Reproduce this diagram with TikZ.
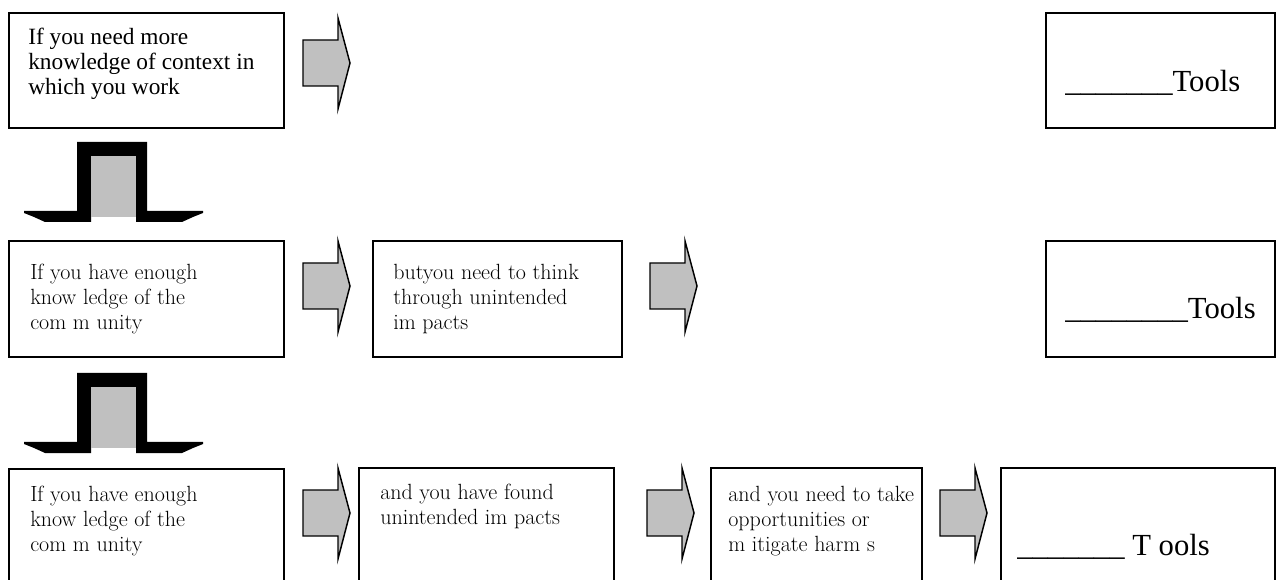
\documentclass[tikz,border=0pt]{standalone}
\usepackage{fontspec}
\newfontfamily\timesf{Liberation Serif}
\usetikzlibrary{fit}
\definecolor{arrowgray}{RGB}{192,192,192}
\tikzset{
  box/.style={draw=black, line width=1.2pt, rectangle, inner sep=0pt},
  txtA/.style={font=\timesf\fontsize{17.5}{18.75}\selectfont, align=left, inner sep=0pt, anchor=north west},
  txtB/.style={font=\fontsize{16.5}{18.75}\selectfont, align=left, inner sep=0pt, anchor=north west},
  tooltxt/.style={font=\timesf\fontsize{23}{27}\selectfont, inner sep=0pt, anchor=base west},
  arrowshape/.style={draw=black, line width=1.1pt, fill=arrowgray, line join=miter},
  blockarrow/.pic={
    \draw[arrowshape] (0,0) -- (35,0) -- (35,-22) -- (47,23) -- (35,69) -- (35,46) -- (0,46) -- cycle;
  },
  pedestal/.pic={
    \fill[black] (-53,69) -- (0,69) -- (0,0) -- (70,0) -- (70,69) -- (126,69) -- (126,71)
      -- (116,75) -- (105,80) -- (59,80) -- (59,14) -- (14,14) -- (14,80) -- (-32,80)
      -- (-43,75) -- (-53,71) -- cycle;
    \fill[arrowgray] (14,14) rectangle (59,75);
  }
}
\begin{document}
\begin{tikzpicture}[x=0.75pt,y=-0.75pt]
\useasboundingbox (0,0) rectangle (1277,580);

% row 1
\node[box, fit={(9,13) (284,128)}] (b11) {};
\node[box, fit={(1046,13) (1275,128)}] (b14) {};
\node[txtA] (t11) at (28,26.5) {\strut If you need more\\knowledge of context in\\which you work};
\node[tooltxt] (t14) at (1065,92) {\_\_\_\_\_\_\_Tools};
\pic at (303,40) {blockarrow};
\pic at (77,142) {pedestal};

% row 2
\node[box, fit={(9,241) (284,357)}] (b21) {};
\node[box, fit={(373,241) (622,357)}] (b22) {};
\node[box, fit={(1046,241) (1275,357)}] (b24) {};
\node[txtB] (t21) at (30,261.5) {\strut If you have enough\\know ledge of the\\com m unity};
\node[txtB] (t22) at (393,261.5) {\strut butyou need to think\\through unintended\\im pacts};
\node[tooltxt] (t24) at (1065,319) {\_\_\_\_\_\_\_\_Tools};
\pic at (303,263) {blockarrow};
\pic at (650,263) {blockarrow};
\pic at (77,373) {pedestal};

% row 3
\node[box, fit={(9,469) (284,600)}] (b31) {};
\node[box, fit={(359,468) (614,600)}] (b32) {};
\node[box, fit={(711,468) (922,600)}] (b33) {};
\node[box, fit={(1001,468) (1275,600)}] (b34) {};
\node[txtB] (t31) at (30,484) {\strut If you have enough\\know ledge of the\\com m unity};
\node[txtB] (t32) at (380,482) {\strut and you have found\\unintended im pacts};
\node[txtB] (t33) at (728,484) {\strut and you need to take\\opportunities or\\m itigate harm s};
\node[tooltxt] (t34) at (1017,555) {\_\_\_\_\_\_\_ T ools};
\pic at (303,490) {blockarrow};
\pic at (647,490) {blockarrow};
\pic at (940,490) {blockarrow};
\end{tikzpicture}
\end{document}
